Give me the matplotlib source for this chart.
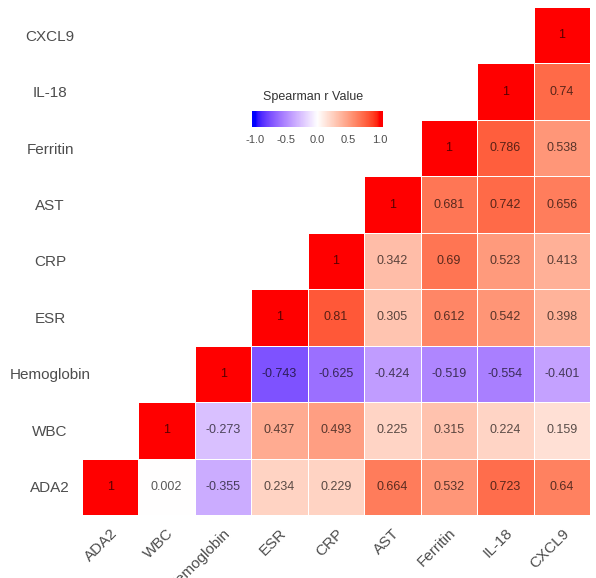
import numpy as np
import matplotlib
matplotlib.use("Agg")
from matplotlib import pyplot as plt
from matplotlib.colors import ListedColormap

plt.rcParams['font.family'] = ['Liberation Sans', 'DejaVu Sans']

# variables, bottom row / left column first
labels = ["ADA2", "WBC", "Hemoglobin", "ESR", "CRP", "AST", "Ferritin", "IL-18", "CXCL9"]

# upper triangle, each row starts on the diagonal
ada2 = [1, 0.002, -0.355, 0.234, 0.229, 0.664, 0.532, 0.723, 0.64]
wbc = [1, -0.273, 0.437, 0.493, 0.225, 0.315, 0.224, 0.159]
hemoglobin = [1, -0.743, -0.625, -0.424, -0.519, -0.554, -0.401]
esr = [1, 0.81, 0.305, 0.612, 0.542, 0.398]
crp = [1, 0.342, 0.69, 0.523, 0.413]
ast = [1, 0.681, 0.742, 0.656]
ferritin = [1, 0.786, 0.538]
il18 = [1, 0.74]
cxcl9 = [1]
rows = [ada2, wbc, hemoglobin, esr, crp, ast, ferritin, il18, cxcl9]

legend_ticks = [-1.0, -0.5, 0.0, 0.5, 1.0]


# blue - white - red gradient interpolated in Lab, like ggplot's gradient2
def to_lab(rgb):
    c = np.array(rgb, dtype=float)
    c = np.where(c > 0.04045, ((c + 0.055) / 1.055) ** 2.4, c / 12.92)
    m = np.array([[0.4124, 0.3576, 0.1805],
                  [0.2126, 0.7152, 0.0722],
                  [0.0193, 0.1192, 0.9505]])
    xyz = m @ c / np.array([0.95047, 1.0, 1.08883])
    f = np.where(xyz > 0.008856, np.cbrt(xyz), 7.787 * xyz + 16 / 116)
    return np.array([116 * f[1] - 16, 500 * (f[0] - f[1]), 200 * (f[1] - f[2])])


def from_lab(lab):
    fy = (lab[0] + 16) / 116
    fx = fy + lab[1] / 500
    fz = fy - lab[2] / 200
    f = np.array([fx, fy, fz])
    xyz = np.where(f ** 3 > 0.008856, f ** 3, (f - 16 / 116) / 7.787)
    xyz = xyz * np.array([0.95047, 1.0, 1.08883])
    m = np.array([[3.2406, -1.5372, -0.4986],
                  [-0.9689, 1.8758, 0.0415],
                  [0.0557, -0.2040, 1.0570]])
    c = m @ xyz
    c = np.where(c > 0.0031308, 1.055 * np.clip(c, 0, None) ** (1 / 2.4) - 0.055, 12.92 * c)
    return np.clip(c, 0, 1)


low, mid, high = to_lab([0, 0, 1]), to_lab([1, 1, 1]), to_lab([1, 0, 0])
cols = []
for t in np.linspace(-1, 1, 256):
    if t < 0:
        cols.append(from_lab(mid + (low - mid) * (-t)))
    else:
        cols.append(from_lab(mid + (high - mid) * t))
cmap = ListedColormap(cols)

n = len(labels)
mat = np.full((n, n), np.nan)
for i, r in enumerate(rows):
    for k, v in enumerate(r):
        mat[i, i + k] = v

fig = plt.figure(figsize=(5.96, 5.78), dpi=100)
ax = fig.add_axes([82 / 596, 63 / 578, 508 / 596, 508 / 578])
ax.pcolormesh(np.arange(n + 1) - 0.5, np.arange(n + 1) - 0.5,
              np.ma.masked_invalid(mat), cmap=cmap, vmin=-1, vmax=1,
              edgecolors='white', linewidth=0.6)
for i in range(n):
    for j in range(n):
        if not np.isnan(mat[i, j]):
            ax.text(j, i, '{:g}'.format(mat[i, j]), ha='center', va='center',
                    fontsize=9, color='black', alpha=0.65)

ax.set_xlim(-0.5, n - 0.5)
ax.set_ylim(-0.5, n - 0.5)
ax.set_xticks(range(n))
ax.set_yticks(range(n))
ax.set_xticklabels(labels, rotation=45, ha='right', va='top', rotation_mode='anchor',
                   fontsize=11, color='#4d4d4d')
ax.set_yticklabels(labels, ha='center', fontsize=11, color='#4d4d4d')
ax.tick_params(axis='y', length=0, pad=23)
ax.tick_params(axis='x', length=0, pad=8)
for s in ax.spines.values():
    s.set_visible(False)

# legend colour bar
cax = fig.add_axes([252 / 596, 451 / 578, 131 / 596, 16 / 578])
grad = np.linspace(-1.05, 1.05, 300)[None, :]
cax.imshow(grad, aspect='auto', cmap=cmap, vmin=-1, vmax=1, extent=[-1.05, 1.05, 0, 1])
cax.set_yticks([])
cax.set_xticks(legend_ticks)
cax.set_xticklabels(['{:.1f}'.format(t) for t in legend_ticks], fontsize=8, color='#4d4d4d')
cax.tick_params(axis='x', length=0, pad=6)
for s in cax.spines.values():
    s.set_visible(False)
fig.text(313 / 596, 1 - 97 / 578, "Spearman r Value", ha='center', va='center',
         fontsize=9, color='#333333')

fig.savefig("out.png", dpi=100)
